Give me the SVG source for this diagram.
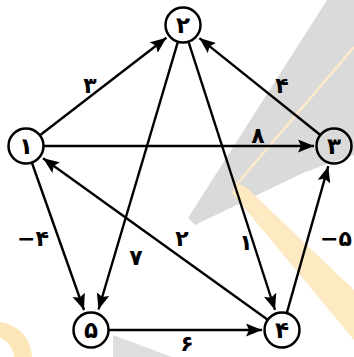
<svg xmlns="http://www.w3.org/2000/svg" width="354" height="357" viewBox="0 0 354 357">
<defs>
<style>
.edge{stroke:#000;stroke-width:2.4;fill:none;marker-end:url(#arr)}
.node{fill:none;stroke:#000;stroke-width:2.5}
.t{font-family:"DejaVu Sans","Liberation Sans",sans-serif;font-size:23px;font-weight:bold;fill:#000;text-anchor:middle}
.lbl{font-family:"DejaVu Sans","Liberation Sans",sans-serif;font-size:22px;font-weight:bold;fill:#000;text-anchor:middle}
</style>
<marker id="arr" markerUnits="userSpaceOnUse" markerWidth="18" markerHeight="14" refX="16" refY="6.5" orient="auto">
<path d="M0,0 L16,6.5 L0,13 L3,6.5 z" fill="#000"/>
</marker>
</defs>
<rect width="354" height="357" fill="#fff"/>
<g id="watermark">
<polygon points="327,0 354,0 354,155 305,172 195,225 188,218" fill="#dadada"/>
<polygon points="113,335 172,357 113,357" fill="#dedede"/>
<line x1="354" y1="47" x2="236" y2="185" stroke="#fcebc8" stroke-width="2.5"/>
<polygon points="236,183 246,187 354,290 354,340 232,193" fill="#fde9c2"/>
<path d="M0,322 Q30,328 32,357 L14,357 Q12,342 0,338 z" fill="#fde7b8"/>
</g>
<g id="connectors">
<line class="edge" x1="40.3" y1="135" x2="166.4" y2="37.8"/>
<line class="edge" x1="44" y1="146" x2="314" y2="146"/>
<line class="edge" x1="320" y1="134.7" x2="199.4" y2="38.1"/>
<line class="edge" x1="177.8" y1="42.2" x2="98.5" y2="309.5"/>
<line class="edge" x1="188.6" y1="42.1" x2="275" y2="310"/>
<line class="edge" x1="32" y1="163" x2="84" y2="310"/>
<line class="edge" x1="267.4" y1="319.5" x2="43.1" y2="158.3"/>
<line class="edge" x1="286.9" y1="312.7" x2="328.3" y2="166.2"/>
<line class="edge" x1="109" y1="330" x2="262" y2="330"/>
<text class="lbl" x="90" y="93">۳</text>
<text class="lbl" x="282" y="93">۴</text>
<text class="lbl" x="258" y="143">۸</text>
<text class="lbl" x="136" y="265">۷</text>
<text class="lbl" x="246" y="250">۱</text>
<text class="lbl" x="33" y="246">−۴</text>
<text class="lbl" x="182" y="246">۲</text>
<text class="lbl" x="336" y="246">−۵</text>
<text class="lbl" x="187" y="351">۶</text>
</g>
<g id="node1"><circle class="node" cx="26" cy="146" r="17.5"/><text class="t" x="26" y="154">۱</text></g>
<g id="node2"><circle class="node" cx="183" cy="25" r="17.5"/><text class="t" x="183" y="33">۲</text></g>
<g id="node3"><circle class="node" cx="334" cy="146" r="17.5"/><text class="t" x="334" y="154">۳</text></g>
<g id="node4"><circle class="node" cx="282" cy="330" r="17.5"/><text class="t" x="282" y="338">۴</text></g>
<g id="node5"><circle class="node" cx="91" cy="330" r="17.5"/><text class="t" x="91" y="338">۵</text></g>
</svg>
